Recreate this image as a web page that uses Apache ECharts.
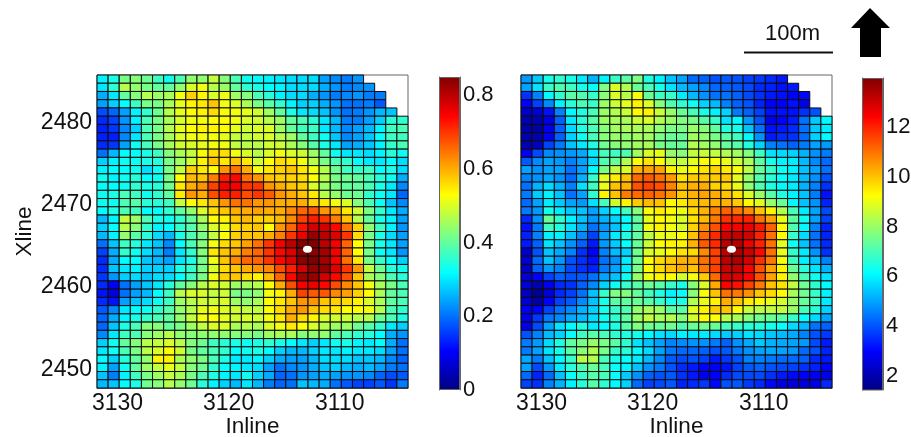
<!DOCTYPE html>
<html><head><meta charset="utf-8">
<style>html,body{margin:0;padding:0;background:#fff}#c{width:911px;height:437px}</style>
<script src="https://cdn.jsdelivr.net/npm/echarts@6/dist/echarts.min.js"></script>
</head><body><div id="c"></div>
<script>
const n = null;
// Left panel: rows from Xline top (2485-2486) to bottom, columns Inline 3132 -> 3104
const amplitudeRows = [
[.31,.34,.42,.43,.41,.37,.33,.38,.44,.44,.48,.43,.38,.33,.32,.31,.30,.29,.29,.29,.24,.22,.21,.23,n,n,n,n],
[.30,.36,.47,.44,.42,.40,.40,.44,.50,.52,.47,.45,.40,.36,.34,.32,.31,.29,.29,.29,.25,.23,.21,.22,.23,n,n,n],
[.25,.30,.40,.43,.47,.45,.46,.52,.57,.54,.50,.52,.45,.43,.38,.35,.31,.29,.29,.25,.23,.21,.22,.23,.21,.21,n,n],
[.24,.28,.32,.37,.42,.42,.46,.51,.54,.55,.58,.52,.50,.46,.42,.39,.36,.31,.28,.28,.25,.23,.20,.20,.21,.18,n,n],
[.17,.19,.24,.31,.36,.41,.47,.51,.53,.54,.56,.53,.52,.51,.49,.45,.40,.34,.30,.29,.27,.23,.20,.21,.23,.26,.27,n],
[.14,.16,.23,.31,.38,.42,.46,.50,.52,.52,.53,.53,.52,.50,.49,.47,.45,.40,.38,.35,.30,.26,.21,.21,.24,.28,.35,.36],
[.13,.15,.22,.28,.38,.42,.47,.51,.53,.54,.54,.53,.51,.49,.50,.50,.45,.40,.37,.37,.30,.26,.22,.24,.26,.31,.37,.38],
[.13,.13,.22,.30,.38,.42,.46,.50,.52,.52,.52,.51,.48,.48,.49,.50,.47,.45,.40,.37,.33,.27,.22,.24,.27,.32,.37,.37],
[.14,.15,.24,.33,.38,.42,.46,.49,.50,.51,.52,.52,.48,.47,.47,.49,.49,.46,.43,.39,.34,.30,.24,.25,.27,.31,.36,.38],
[.20,.26,.32,.32,.34,.37,.43,.46,.48,.53,.56,.56,.52,.50,.47,.50,.52,.50,.49,.45,.40,.33,.30,.30,.29,.31,.35,.33],
[.28,.31,.33,.33,.34,.35,.42,.45,.49,.54,.58,.55,.58,.55,.49,.53,.56,.55,.52,.47,.42,.38,.36,.32,.30,.30,.32,.29],
[.31,.32,.32,.33,.29,.33,.42,.48,.57,.55,.53,.62,.65,.60,.52,.55,.57,.58,.55,.52,.47,.41,.37,.36,.37,.32,.34,.29],
[.33,.31,.33,.35,.32,.33,.42,.53,.59,.58,.64,.72,.74,.65,.62,.58,.57,.57,.56,.53,.47,.42,.41,.40,.38,.35,.33,.25],
[.32,.32,.33,.36,.34,.35,.41,.55,.60,.62,.69,.75,.75,.70,.70,.62,.60,.58,.57,.50,.45,.42,.40,.40,.38,.34,.30,.22],
[.33,.34,.38,.37,.33,.36,.40,.55,.62,.60,.68,.72,.72,.68,.70,.67,.62,.60,.58,.55,.47,.44,.41,.41,.36,.33,.30,.19],
[.33,.33,.38,.39,.35,.35,.37,.48,.53,.55,.58,.62,.65,.65,.62,.62,.60,.60,.60,.57,.55,.52,.50,.43,.38,.33,.27,.22],
[.32,.34,.38,.37,.32,.32,.36,.40,.44,.50,.56,.58,.60,.60,.61,.60,.60,.63,.66,.67,.62,.60,.55,.49,.42,.36,.30,.25],
[.26,.31,.48,.45,.38,.34,.33,.36,.40,.46,.53,.54,.58,.59,.57,.57,.59,.63,.69,.72,.70,.64,.58,.47,.40,.34,.31,.24],
[.28,.32,.47,.43,.36,.31,.32,.36,.39,.44,.50,.52,.56,.57,.58,.53,.62,.66,.73,.78,.78,.74,.65,.57,.44,.37,.31,.23],
[.26,.31,.44,.39,.35,.29,.26,.34,.38,.42,.48,.53,.57,.58,.58,.60,.64,.70,.76,.83,.80,.77,.70,.56,.42,.34,.29,.24],
[.20,.27,.37,.35,.30,.27,.22,.32,.38,.43,.52,.56,.58,.61,.65,.70,.75,.80,.85,.85,.80,.75,.66,.53,.42,.34,.30,.24],
[.16,.25,.36,.33,.29,.26,.21,.30,.36,.43,.55,.58,.60,.64,.66,.70,.74,.77,.84,.84,.82,.75,.66,.53,.42,.33,.30,.23],
[.14,.25,.32,.32,.27,.26,.24,.30,.34,.42,.52,.58,.63,.66,.66,.70,.74,.77,.84,.85,.82,.75,.65,.55,.42,.36,.32,.28],
[.14,.27,.30,.31,.28,.28,.28,.34,.36,.42,.50,.56,.58,.60,.62,.63,.68,.72,.78,.83,.83,.77,.70,.62,.48,.41,.35,.33],
[.15,.23,.28,.29,.27,.29,.29,.32,.37,.42,.52,.57,.58,.56,.54,.59,.66,.74,.82,.83,.78,.74,.68,.58,.46,.43,.38,.35],
[.14,.10,.20,.24,.27,.30,.35,.40,.43,.47,.50,.49,.45,.46,.47,.53,.60,.68,.75,.76,.74,.68,.63,.58,.52,.46,.42,.38],
[.12,.08,.20,.24,.26,.32,.37,.47,.50,.50,.48,.49,.42,.42,.44,.52,.54,.60,.69,.67,.67,.63,.61,.57,.53,.46,.40,.38],
[.14,.12,.24,.27,.29,.33,.37,.45,.47,.49,.49,.50,.45,.44,.46,.53,.55,.58,.62,.62,.58,.57,.56,.54,.50,.46,.40,.38],
[.18,.22,.30,.32,.33,.36,.39,.44,.47,.51,.52,.50,.49,.48,.48,.53,.56,.60,.62,.58,.56,.55,.53,.53,.52,.47,.38,.36],
[.19,.25,.31,.34,.36,.38,.40,.44,.48,.52,.53,.51,.49,.50,.49,.52,.55,.60,.56,.54,.50,.49,.49,.47,.47,.41,.38,.34],
[.19,.27,.34,.38,.43,.43,.40,.42,.45,.48,.50,.50,.46,.47,.46,.50,.52,.55,.53,.50,.47,.45,.45,.41,.39,.36,.30,.28],
[.22,.30,.37,.38,.43,.45,.47,.44,.43,.44,.44,.44,.43,.43,.42,.45,.46,.46,.43,.44,.44,.40,.38,.36,.35,.32,.25,.23],
[.28,.33,.40,.43,.47,.48,.50,.47,.43,.41,.37,.35,.34,.33,.34,.36,.34,.32,.30,.28,.30,.33,.34,.31,.30,.32,.25,.20],
[.30,.33,.38,.42,.47,.50,.53,.49,.42,.40,.38,.36,.32,.33,.34,.32,.28,.26,.26,.28,.30,.30,.31,.30,.30,.29,.24,.20],
[.32,.28,.35,.40,.44,.54,.54,.46,.44,.42,.38,.34,.30,.30,.31,.28,.25,.24,.24,.26,.29,.29,.29,.27,.27,.26,.22,.19],
[.31,.24,.33,.40,.45,.48,.51,.48,.43,.41,.36,.32,.31,.30,.29,.24,.20,.22,.23,.25,.27,.28,.26,.25,.26,.24,.21,.20],
[.27,.21,.31,.37,.42,.45,.48,.46,.42,.38,.34,.31,.30,.33,.28,.25,.19,.20,.23,.24,.25,.24,.23,.23,.22,.19,.17,.18],
[.26,.27,.32,.34,.41,.43,.47,.44,.41,.35,.31,.28,.26,.30,.26,.21,.19,.20,.27,.26,.25,.20,.18,.16,.16,.18,.15,.21]
];
// Right panel: same layout
const energyRows = [
[4.9,5.5,6.4,6.7,6.4,5.9,5.2,6.0,6.8,7.2,7.7,6.5,6.0,5.4,5.0,4.3,4.2,4.0,4.1,4.0,3.8,3.7,3.5,3.3,n,n,n,n],
[5.0,5.8,6.8,7.1,6.9,6.4,6.2,7.7,8.8,8.3,7.4,7.0,6.4,5.8,5.3,5.0,4.7,4.3,4.2,4.1,3.9,3.5,3.4,3.2,3.3,n,n,n],
[3.6,4.6,6.1,6.7,7.2,7.1,6.8,7.8,8.8,8.4,9.2,7.4,6.9,6.8,5.9,5.3,4.8,4.4,4.4,4.2,3.9,3.6,3.3,3.2,3.0,3.1,n,n],
[3.0,3.8,4.7,6.0,6.6,7.0,6.8,8.0,8.6,8.9,9.4,8.8,7.8,7.1,6.7,6.3,5.6,5.3,4.6,4.2,4.0,3.4,3.0,3.0,3.2,2.8,n,n],
[2.4,2.6,3.2,4.6,6.1,6.5,7.0,8.0,8.3,8.6,9.3,9.4,8.6,8.0,7.4,7.0,6.4,6.0,5.6,4.5,4.2,3.8,3.2,3.2,3.2,3.6,4.0,n],
[2.1,2.1,2.7,4.2,5.9,6.6,7.2,8.0,8.2,8.2,8.6,8.8,8.3,8.0,7.7,7.6,7.2,6.8,5.8,6.1,4.9,4.0,2.8,3.0,3.3,4.4,5.5,6.1],
[2.0,1.9,2.8,4.2,5.7,6.5,7.0,7.8,8.1,8.2,8.2,8.2,7.9,7.6,7.6,8.0,7.8,7.3,6.5,6.4,5.4,4.4,3.2,3.3,3.5,4.4,5.5,5.9],
[2.0,2.0,2.9,4.2,5.6,6.3,7.0,7.8,8.0,7.9,8.1,8.1,7.6,7.4,7.4,8.1,7.9,7.6,7.2,6.9,6.1,4.8,3.3,3.5,3.6,4.3,5.6,6.1],
[2.1,2.3,3.8,4.5,5.4,5.9,6.5,7.5,7.8,7.9,8.1,8.2,7.6,7.4,7.4,8.3,8.1,7.9,7.4,7.2,6.5,5.6,4.6,4.4,4.2,4.5,5.0,4.9],
[2.9,3.9,4.7,4.8,4.9,5.1,5.9,7.0,6.9,7.1,8.1,8.8,9.0,8.0,7.8,8.5,8.6,8.5,8.3,8.1,7.7,6.9,5.8,5.7,5.6,5.2,4.8,4.5],
[4.1,4.7,5.0,4.9,4.6,5.0,5.7,7.1,7.4,8.3,9.2,9.6,9.2,8.6,8.5,8.9,9.2,9.2,9.0,8.6,8.2,7.3,6.4,6.0,5.9,5.3,4.7,4.3],
[5.0,4.8,5.0,5.0,4.4,5.0,6.1,7.6,8.5,8.8,10.2,10.4,10.4,9.4,9.0,9.3,9.6,9.8,9.5,9.2,8.4,7.4,6.8,6.3,6.0,5.4,5.0,4.4],
[4.6,4.8,5.1,4.8,4.3,5.2,6.8,8.9,9.5,10.0,11.1,11.3,11.0,10.5,9.6,9.9,9.9,9.9,9.9,8.9,8.0,7.2,6.6,6.2,5.9,5.3,4.8,4.0],
[4.4,5.2,5.7,5.2,4.6,5.8,6.9,9.0,10.0,10.2,11.4,11.6,11.4,10.8,10.0,10.2,10.3,9.8,9.7,9.0,7.9,7.1,6.5,6.1,5.9,5.2,4.6,3.6],
[4.5,5.5,6.0,5.4,4.4,5.0,6.7,9.4,10.0,10.9,11.1,11.2,11.0,10.6,9.9,10.2,10.4,10.3,10.0,9.6,8.8,8.0,7.2,6.5,6.0,5.4,4.5,3.2],
[4.3,5.0,5.9,5.5,5.0,4.9,5.8,7.0,8.7,9.4,9.9,10.1,10.0,9.3,9.5,9.9,10.1,10.2,10.2,9.9,9.3,8.9,8.0,7.4,6.1,5.4,4.8,3.4],
[4.5,4.9,6.4,5.9,5.5,5.4,5.0,5.6,6.2,7.0,7.8,9.2,9.5,9.3,9.0,9.7,10.2,10.8,11.2,11.0,10.7,10.0,9.4,8.3,7.0,5.9,5.0,3.9],
[3.5,4.8,7.4,6.7,6.0,5.4,4.9,5.2,5.6,6.2,7.3,9.0,9.3,9.1,8.8,9.6,10.1,10.9,11.8,11.9,12.0,11.0,10.4,9.0,7.3,6.3,5.0,3.8],
[3.2,4.5,6.9,6.5,5.8,5.2,4.4,4.9,5.4,6.2,7.2,9.1,9.4,9.1,8.8,9.8,10.6,11.4,12.4,12.5,12.6,12.1,11.2,9.3,7.1,6.1,4.6,3.4],
[3.4,4.6,6.0,6.0,5.4,4.7,3.8,5.0,5.9,6.5,7.3,8.5,9.0,9.0,9.2,10.0,11.1,11.9,13.0,13.1,12.9,12.0,11.0,9.3,6.8,5.7,4.4,3.4],
[3.3,4.2,5.8,5.4,4.8,4.2,3.3,4.9,5.5,6.2,7.4,8.6,9.3,9.4,9.4,10.2,11.3,11.9,13.3,13.3,12.6,12.0,11.0,8.9,6.3,5.4,4.4,3.5],
[2.4,4.0,5.4,5.1,4.6,3.6,3.0,4.6,5.3,5.6,7.5,8.8,9.0,9.3,9.6,9.7,10.7,11.6,13.2,13.4,13.0,12.3,11.0,9.0,6.8,5.9,4.8,3.6],
[2.5,4.3,5.4,4.9,4.0,3.6,3.2,4.4,4.8,5.9,7.5,9.3,9.7,9.9,10.2,10.3,11.0,11.6,13.2,13.4,12.9,11.8,10.9,9.1,6.9,6.0,5.4,4.6],
[2.3,4.2,4.9,4.6,3.9,3.6,3.4,4.5,5.0,5.9,7.6,9.3,9.7,10.0,10.3,10.0,10.9,11.6,13.0,13.1,12.4,11.4,10.4,9.4,7.4,6.6,5.8,5.2],
[2.5,3.0,3.8,4.2,4.0,4.1,4.4,5.0,5.4,6.3,8.0,9.1,9.4,9.3,8.7,9.1,9.9,11.1,12.9,12.8,12.4,11.4,10.4,9.4,7.9,7.0,6.3,5.8],
[2.6,2.1,2.8,3.5,3.6,4.2,4.7,5.6,6.3,6.8,7.2,7.5,7.2,6.8,6.4,7.8,8.8,10.3,12.4,12.2,11.6,10.9,10.0,9.6,8.5,7.5,6.7,6.1],
[2.3,1.7,2.6,3.5,3.8,4.4,5.4,6.8,7.7,7.7,7.4,6.9,6.5,6.0,6.2,7.8,9.2,10.0,11.0,10.9,10.6,10.0,9.7,9.3,8.2,7.5,6.8,6.0],
[2.5,1.9,3.0,3.8,4.1,4.7,5.4,6.4,7.2,7.3,7.4,7.2,6.8,6.4,6.5,8.3,9.0,9.4,10.3,10.0,9.5,9.3,9.0,8.7,8.0,7.4,6.9,5.9],
[2.9,3.0,3.8,4.4,4.7,5.2,5.6,6.4,6.8,7.1,7.9,8.2,8.0,7.3,7.2,8.9,9.4,9.9,10.0,9.3,8.6,8.4,8.5,8.5,8.0,7.0,6.6,5.6],
[2.8,3.7,4.5,4.7,5.1,5.3,5.7,6.3,6.7,7.3,8.0,8.5,8.2,8.3,7.8,8.7,9.3,9.2,8.4,8.2,7.8,7.5,7.4,7.2,6.8,6.2,5.7,5.0],
[2.8,3.9,5.0,5.8,6.1,6.5,5.9,6.1,6.5,7.2,7.7,7.5,7.4,7.5,7.1,7.4,7.6,7.4,7.0,6.8,6.6,6.6,6.4,6.2,5.7,5.3,4.4,4.2],
[4.0,4.6,5.3,5.6,6.2,6.9,7.2,7.0,6.7,6.5,6.4,6.1,5.8,5.7,6.0,5.9,5.9,5.7,5.5,5.6,5.8,5.7,5.5,5.3,5.1,4.6,4.0,3.7],
[4.5,4.9,5.7,6.5,7.3,7.6,8.0,7.6,7.2,6.7,5.8,5.4,5.0,4.6,4.7,4.8,4.8,4.5,4.2,4.8,5.1,5.5,5.2,5.1,5.0,4.9,3.9,3.3],
[4.5,5.0,5.8,6.4,7.2,7.8,8.3,7.6,6.8,6.6,6.1,5.7,5.0,4.5,4.3,4.3,4.2,4.0,4.1,4.5,4.8,5.0,5.1,5.0,4.9,4.3,4.0,3.4],
[5.1,4.5,5.4,6.1,6.8,8.4,8.3,7.0,6.4,6.2,5.9,5.3,4.7,4.1,3.9,4.0,3.8,3.3,3.7,4.0,4.6,4.6,4.5,4.3,4.3,4.2,3.5,3.3],
[5.0,3.9,4.9,5.9,6.6,7.1,7.4,7.0,6.2,6.0,5.4,4.8,4.5,4.0,3.5,3.3,3.0,2.9,3.2,3.8,4.1,4.2,4.0,3.9,3.8,3.6,3.4,3.0],
[4.3,3.4,4.3,5.4,6.2,6.8,7.2,7.0,6.2,5.5,4.8,4.2,4.0,4.1,3.6,3.3,2.8,3.0,3.5,3.9,3.9,3.9,3.6,3.3,3.1,3.0,2.9,2.8],
[3.8,3.6,4.6,5.2,6.0,6.6,7.2,6.7,6.1,5.6,4.3,3.8,3.9,4.1,3.4,3.5,3.7,3.1,4.0,4.1,3.7,3.5,3.1,2.7,2.6,2.6,2.7,3.5]
];
const inlineTicks = [3130, 3120, 3110];
const xlineTicks = [2450, 2460, 2470, 2480];
const ampTicks = [0, 0.2, 0.4, 0.6, 0.8];
const energyTicks = [2, 4, 6, 8, 10, 12];
const ampRange = [0, 0.85];
const energyRange = [1.45, 13.95];
const wellPoint = [3112.9, 2464.6];
const jet = ['#000080','#0000ff','#0080ff','#00ffff','#80ff80','#ffff00','#ff8000','#ff0000','#800000'];

const FONT = '"Liberation Sans", Arial, sans-serif';
const INK = '#111';
const edgeX = 3131.85, edgeY = 2485.75;
function cells(rows) {
  const out = [];
  rows.forEach((row, r) => row.forEach((v, c) => {
    if (v !== null && v !== undefined) out.push([edgeX - c, edgeY - r, v]);
  }));
  return out;
}
function renderCell(params, api) {
  const a = api.coord([api.value(0), api.value(1)]);
  const b = api.coord([api.value(0) - 1, api.value(1) - 1]);
  return { type: 'rect', shape: { x: a[0], y: a[1], width: b[0] - a[0], height: b[1] - a[1] },
           style: { fill: api.visual('color'), stroke: '#0c0c0c', lineWidth: 1 } };
}
function mapX(i, name) {
  return { gridIndex: i, type: 'value', inverse: true, min: edgeX - 28, max: edgeX,
    name: name, nameLocation: 'middle', nameGap: 27, nameMoveOverlap: false,
    nameTextStyle: { fontFamily: FONT, fontSize: 22.5, color: INK },
    axisLine: { show: true, onZero: false, lineStyle: { color: '#666' } },
    axisTick: { show: true, inside: true, length: 4, customValues: inlineTicks, lineStyle: { color: '#333' } },
    axisLabel: { fontFamily: FONT, fontSize: 23, color: INK, margin: 4, customValues: inlineTicks, formatter: v => String(v) },
    splitLine: { show: false } };
}
function mapY(i, withLabels) {
  return { gridIndex: i, type: 'value', min: edgeY - 38, max: edgeY,
    name: withLabels ? 'Xline' : '', nameLocation: 'middle', nameGap: 61,
    nameTextStyle: { fontFamily: FONT, fontSize: 22.5, color: INK },
    axisLine: { show: true, onZero: false, lineStyle: { color: '#666' } },
    axisTick: { show: true, inside: true, length: 4, customValues: xlineTicks, lineStyle: { color: '#333' } },
    axisLabel: { show: withLabels, fontFamily: FONT, fontSize: 23, color: INK, margin: 5, customValues: xlineTicks, formatter: v => String(v) },
    splitLine: { show: false } };
}
function barY(i, range, ticks, side) {
  return { gridIndex: i, type: 'value', min: range[0], max: range[1], position: side,
    axisLine: { show: true, onZero: false, lineStyle: { color: '#666' } },
    axisTick: { show: true, inside: true, length: 3, customValues: ticks.filter(t => t > range[0]), lineStyle: { color: '#111' } },
    axisLabel: { show: side === 'right', fontFamily: FONT, fontSize: 22, color: INK, margin: 3, customValues: ticks, formatter: v => String(v) },
    splitLine: { show: false } };
}
const gradient = new echarts.graphic.LinearGradient(0, 1, 0, 0, jet.map((c, i) => ({ offset: i / (jet.length - 1), color: c })));
function colorBar(xI, yI, top) {
  return { type: 'bar', xAxisIndex: xI, yAxisIndex: yI, data: [top], barWidth: '100%', silent: true,
    itemStyle: { color: gradient, borderColor: '#666', borderWidth: 1 } };
}
const dot = (i) => ({ type: 'scatter', xAxisIndex: i, yAxisIndex: i, data: [wellPoint], symbol: 'circle',
  symbolSize: [9, 7], silent: true, z: 5, itemStyle: { color: '#fff', opacity: 1 } });

const box = { show: true, borderColor: '#666', borderWidth: 1, backgroundColor: 'transparent' };
const option = {
  animation: false,
  backgroundColor: '#fff',
  grid: [
    Object.assign({ left: 97, top: 75, width: 311, height: 313, outerBoundsMode: 'none' }, box),
    Object.assign({ left: 521, top: 75, width: 311, height: 313, outerBoundsMode: 'none' }, box),
    { left: 439, top: 77, width: 21, height: 313, outerBoundsMode: 'none' },
    { left: 862, top: 78, width: 21, height: 312, outerBoundsMode: 'none' }
  ],
  xAxis: [ mapX(0, 'Inline'), mapX(1, 'Inline'),
    { gridIndex: 2, type: 'category', data: ['c'], show: false },
    { gridIndex: 3, type: 'category', data: ['c'], show: false } ],
  yAxis: [ mapY(0, true), mapY(1, false),
    barY(2, ampRange, ampTicks, 'left'), barY(2, ampRange, ampTicks, 'right'),
    barY(3, energyRange, energyTicks, 'left'), barY(3, energyRange, energyTicks, 'right') ],
  visualMap: [
    { show: false, type: 'continuous', seriesIndex: 0, dimension: 2, min: ampRange[0], max: ampRange[1], inRange: { color: jet } },
    { show: false, type: 'continuous', seriesIndex: 1, dimension: 2, min: energyRange[0], max: energyRange[1], inRange: { color: jet } }
  ],
  series: [
    { type: 'custom', xAxisIndex: 0, yAxisIndex: 0, data: cells(amplitudeRows), renderItem: renderCell, silent: true, encode: { x: 0, y: 1 } },
    { type: 'custom', xAxisIndex: 1, yAxisIndex: 1, data: cells(energyRows), renderItem: renderCell, silent: true, encode: { x: 0, y: 1 } },
    dot(0), dot(1),
    colorBar(2, 2, ampRange[1]),
    colorBar(3, 4, energyRange[1])
  ],
  graphic: [
    { type: 'text', left: 765, top: 23, style: { text: '100m', fontFamily: FONT, fontSize: 22, fill: INK } },
    { type: 'line', shape: { x1: 744, y1: 52.5, x2: 833, y2: 52.5 }, style: { stroke: '#111', lineWidth: 2 } },
    { type: 'polygon', shape: { points: [[870,8],[890,28],[881,28],[881,57],[860,57],[860,28],[851,28]] }, style: { fill: '#000' } }
  ]
};
echarts.init(document.getElementById('c'), null, { renderer: 'canvas' }).setOption(option);
</script></body></html>
